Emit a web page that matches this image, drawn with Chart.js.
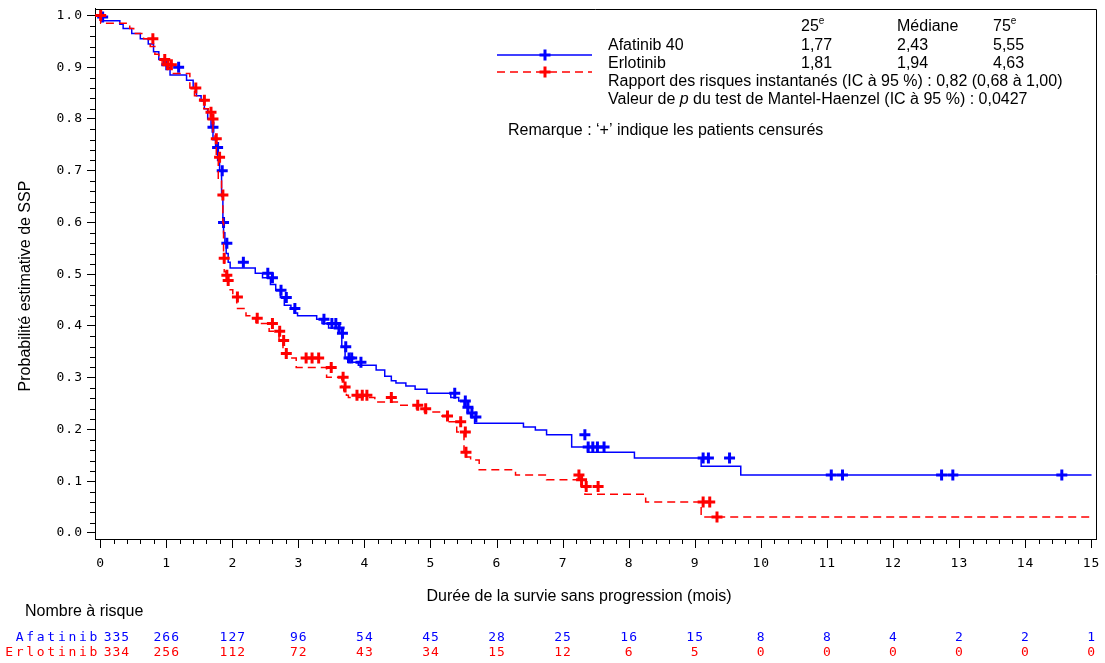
<!DOCTYPE html>
<html lang="fr">
<head>
<meta charset="utf-8">
<title>Survie sans progression</title>
<script src="https://cdn.jsdelivr.net/npm/chart.js@4.4.0/dist/chart.umd.min.js"></script>
<style>
  html, body { margin: 0; padding: 0; background: #fff; }
  canvas { display: block; }
</style>
</head>
<body>
<canvas id="kmChart" width="1105" height="663"></canvas>
<script>
// Kaplan-Meier steps (months, survival after the step)
const afaTimes = [0, 0.02, 0.29, 0.34, 0.47, 0.6, 0.72, 0.8, 0.88, 0.95, 1.0, 1.05, 1.3, 1.4, 1.45, 1.52, 1.57, 1.62, 1.67, 1.7,
  1.74, 1.77, 1.8, 1.83, 1.85, 1.86, 1.88, 1.9, 1.93, 1.96, 2.34, 2.45, 2.57, 2.65, 2.72, 2.78, 2.88, 2.93, 2.98, 3.27,
  3.35, 3.45, 3.6, 3.65, 3.7, 3.74, 3.9, 4.17, 4.3, 4.4, 4.47, 4.62, 4.76, 4.94, 5.3, 5.42, 5.5, 5.55, 5.6, 5.66,
  6.4, 6.58, 6.75, 7.13, 7.37, 8.08, 9.09, 9.69, 11.06, 15.0];
const afaSurv = [1.0, 0.997, 0.99, 0.983, 0.975, 0.965, 0.955, 0.945, 0.93, 0.915, 0.905, 0.9, 0.885, 0.875, 0.86, 0.845, 0.835, 0.82, 0.80, 0.784,
  0.76, 0.745, 0.72, 0.70, 0.65, 0.60, 0.58, 0.56, 0.54, 0.523, 0.512, 0.502, 0.493, 0.48, 0.469, 0.455, 0.44, 0.434, 0.425, 0.42,
  0.413, 0.405, 0.396, 0.386, 0.36, 0.338, 0.33, 0.324, 0.315, 0.303, 0.294, 0.29, 0.284, 0.278, 0.27, 0.262, 0.255, 0.243, 0.232, 0.224,
  0.212, 0.205, 0.199, 0.19, 0.166, 0.156, 0.145, 0.129, 0.112, 0.112];
const afaCensored = [0.03, 1.0, 1.18, 1.7, 1.77, 1.84, 1.86, 1.91, 2.16, 2.53, 2.6, 2.73, 2.81, 2.94, 3.38, 3.5, 3.56, 3.61, 3.66, 3.71,
  3.76, 3.8, 3.94, 5.36, 5.52, 5.56, 5.62, 5.68, 7.33, 7.38, 7.45, 7.52, 7.62, 9.12, 9.2, 9.52, 11.06, 11.23, 12.73, 12.9, 14.55];

const erlTimes = [0, 0.44, 0.5, 0.65, 0.75, 0.82, 0.88, 0.93, 1.0, 1.1, 1.35, 1.42, 1.5, 1.56, 1.63, 1.67, 1.7, 1.73, 1.75, 1.78,
  1.83, 1.85, 1.86, 1.87, 1.9, 1.91, 1.93, 2.0, 2.06, 2.2, 2.3, 2.35, 2.55, 2.7, 2.76, 2.8, 2.96, 3.42, 3.65, 3.68,
  3.72, 3.75, 4.15, 4.52, 4.78, 4.9, 5.15, 5.24, 5.39, 5.5, 5.53, 5.6, 5.73, 6.28, 6.75, 7.27, 7.33, 8.25, 9.09, 9.25, 15.0];
const erlSurv = [1.0, 0.985, 0.975, 0.965, 0.955, 0.94, 0.925, 0.915, 0.905, 0.897, 0.888, 0.86, 0.845, 0.836, 0.82, 0.813, 0.80, 0.775, 0.762, 0.726,
  0.68, 0.653, 0.6, 0.531, 0.505, 0.498, 0.488, 0.47, 0.456, 0.434, 0.42, 0.415, 0.405, 0.39, 0.372, 0.347, 0.338, 0.32, 0.301, 0.282,
  0.275, 0.266, 0.262, 0.253, 0.247, 0.24, 0.234, 0.226, 0.215, 0.195, 0.156, 0.147, 0.141, 0.122, 0.112, 0.103, 0.09, 0.075, 0.06, 0.031, 0.031];
const erlCensored = [0, 0.79, 0.97, 1.02, 1.07, 1.44, 1.57, 1.67, 1.7, 1.75, 1.8, 1.85, 1.87, 1.91, 1.93, 2.07, 2.37, 2.6, 2.71, 2.77,
  2.81, 3.11, 3.2, 3.3, 3.49, 3.67, 3.7, 3.88, 3.96, 4.03, 4.4, 4.8, 4.92, 5.25, 5.45, 5.52, 5.53, 7.24, 7.28, 7.35, 7.53, 9.12, 9.22, 9.33];

// axes and risk table
const months = [0, 1, 2, 3, 4, 5, 6, 7, 8, 9, 10, 11, 12, 13, 14, 15];
const yTicks = [0, 0.1, 0.2, 0.3, 0.4, 0.5, 0.6, 0.7, 0.8, 0.9, 1.0];
const riskAfatinib = [335, 266, 127, 96, 54, 45, 28, 25, 16, 15, 8, 8, 4, 2, 2, 1];
const riskErlotinib = [334, 256, 112, 72, 43, 34, 15, 12, 6, 5, 0, 0, 0, 0, 0, 0];

// legend table
const quantHeads = ['25', 'Médiane', '75'];
const afaQuant = ['1,77', '2,43', '5,55'];
const erlQuant = ['1,81', '1,94', '4,63'];

const BLUE = '#0000ff';
const RED = '#ff0000';
const MONO = '"DejaVu Sans Mono", "Liberation Mono", monospace';
const SANS = '"Liberation Sans", Arial, sans-serif';

function survAt(times, surv, t) {
    let s = surv[0];
    for (let i = 0; i < times.length; i++) {
        if (times[i] <= t + 1e-9) s = surv[i];
    }
    return s;
}

const curve = (times, surv) => times.map((t, i) => ({ x: t, y: surv[i] }));
const marks = (cens, times, surv) => cens.map(t => ({ x: t, y: survAt(times, surv, t) }));

function drawCross(ctx, x, y, color) {
    ctx.save();
    ctx.strokeStyle = color;
    ctx.lineWidth = 3;
    ctx.beginPath();
    ctx.moveTo(x - 5.5, y); ctx.lineTo(x + 5.5, y);
    ctx.moveTo(x, y - 5.5); ctx.lineTo(x, y + 5.5);
    ctx.stroke();
    ctx.restore();
}

const decorations = {
    id: 'decorations',
    beforeDraw(chart) {
        chart.ctx.letterSpacing = '1px'; // SAS style wide tick labels
    },
    afterDraw(chart) {
        const ctx = chart.ctx;
        const a = chart.chartArea;
        const xs = chart.scales.x;
        const ys = chart.scales.y;
        ctx.save();
        ctx.letterSpacing = '0px';

        // top and right frame
        ctx.strokeStyle = '#000';
        ctx.lineWidth = 1;
        ctx.beginPath();
        ctx.moveTo(a.left, Math.round(a.top) + 0.5);
        ctx.lineTo(Math.round(a.right) - 0.5, Math.round(a.top) + 0.5);
        ctx.lineTo(Math.round(a.right) - 0.5, a.bottom);
        ctx.stroke();

        // minor ticks
        ctx.beginPath();
        for (let i = 0; i <= 75; i++) {
            if (i % 5 === 0) continue;
            const px = Math.round(xs.getPixelForValue(i / 5)) + 0.5;
            ctx.moveTo(px, a.bottom);
            ctx.lineTo(px, a.bottom + 5);
        }
        for (let i = 0; i <= 50; i++) {
            if (i % 5 === 0) continue;
            const py = Math.round(ys.getPixelForValue(i / 50)) + 0.5;
            ctx.moveTo(a.left, py);
            ctx.lineTo(a.left - 5, py);
        }
        ctx.stroke();

        // axis titles
        ctx.fillStyle = '#000';
        ctx.font = '16px ' + SANS;
        ctx.textAlign = 'center';
        ctx.textBaseline = 'middle';
        ctx.fillText('Durée de la survie sans progression (mois)', 579, 597);
        ctx.save();
        ctx.translate(26, 286);
        ctx.rotate(-Math.PI / 2);
        ctx.fillText('Probabilité estimative de SSP', 0, 0);
        ctx.restore();

        // legend block
        const cols = [801, 897, 993];
        ctx.textAlign = 'left';
        quantHeads.forEach((h, i) => {
            ctx.font = '16px ' + SANS;
            ctx.fillText(h, cols[i], 27);
            if (h !== 'Médiane') {
                const w = ctx.measureText(h).width;
                ctx.font = '10px ' + SANS;
                ctx.fillText('e', cols[i] + w, 21);
            }
        });
        ctx.font = '16px ' + SANS;
        ctx.fillText('Afatinib 40', 608, 46);
        ctx.fillText('Erlotinib', 608, 64);
        afaQuant.forEach((v, i) => ctx.fillText(v, cols[i], 46));
        erlQuant.forEach((v, i) => ctx.fillText(v, cols[i], 64));
        ctx.fillText('Rapport des risques instantanés (IC à 95 %) : 0,82 (0,68 à 1,00)', 608, 82);
        let x = 608;
        const p1 = 'Valeur de ';
        ctx.fillText(p1, x, 100);
        x += ctx.measureText(p1).width;
        ctx.font = 'italic 16px ' + SANS;
        ctx.fillText('p', x, 100);
        x += ctx.measureText('p').width;
        ctx.font = '16px ' + SANS;
        ctx.fillText(' du test de Mantel-Haenzel (IC à 95 %) : 0,0427', x, 100);
        ctx.fillText('Remarque : \u2018+\u2019 indique les patients censurés', 508, 131);

        // legend samples
        ctx.lineWidth = 1.5;
        ctx.strokeStyle = BLUE;
        ctx.beginPath(); ctx.moveTo(497, 55); ctx.lineTo(592, 55); ctx.stroke();
        drawCross(ctx, 545, 55, BLUE);
        ctx.strokeStyle = RED;
        ctx.setLineDash([8, 5]);
        ctx.beginPath(); ctx.moveTo(497, 72); ctx.lineTo(592, 72); ctx.stroke();
        ctx.setLineDash([]);
        drawCross(ctx, 545, 72, RED);

        // number at risk
        ctx.fillStyle = '#000';
        ctx.font = '16px ' + SANS;
        ctx.fillText('Nombre à risque', 25, 612);
        const rows = [[riskAfatinib, 'Afatinib', BLUE, 638], [riskErlotinib, 'Erlotinib', RED, 653]];
        rows.forEach(([vals, name, color, y]) => {
            ctx.fillStyle = color;
            ctx.font = '13px ' + MONO;
            ctx.letterSpacing = '2.7px';
            ctx.textAlign = 'right';
            ctx.fillText(name, 100, y);
            ctx.letterSpacing = '1px';
            vals.forEach((v, i) => {
                const px = xs.getPixelForValue(months[i]);
                if (i === 0) {
                    ctx.textAlign = 'left';
                    ctx.fillText(String(v), px + 3, y);
                } else {
                    ctx.textAlign = 'center';
                    ctx.fillText(String(v), px, y);
                }
            });
        });
        ctx.restore();
        ctx.letterSpacing = '0px';
    }
};

new Chart(document.getElementById('kmChart'), {
    type: 'line',
    data: {
        datasets: [
            {
                label: 'Erlotinib', data: curve(erlTimes, erlSurv),
                borderColor: RED, borderWidth: 1.5, borderDash: [8, 5],
                stepped: 'after', pointRadius: 0, fill: false, order: 1
            },
            {
                label: 'Erlotinib censurés', data: marks(erlCensored, erlTimes, erlSurv),
                showLine: false, pointStyle: 'cross', pointRadius: 5.5, pointBorderWidth: 3,
                borderColor: RED, backgroundColor: RED, order: 0
            },
            {
                label: 'Afatinib 40', data: curve(afaTimes, afaSurv),
                borderColor: BLUE, borderWidth: 1.5,
                stepped: 'after', pointRadius: 0, fill: false, order: 3
            },
            {
                label: 'Afatinib censurés', data: marks(afaCensored, afaTimes, afaSurv),
                showLine: false, pointStyle: 'cross', pointRadius: 5.5, pointBorderWidth: 3,
                borderColor: BLUE, backgroundColor: BLUE, order: 2
            }
        ]
    },
    options: {
        responsive: false,
        animation: false,
        events: [],
        layout: { padding: { top: 8, right: 5, left: 0, bottom: 0 } },
        plugins: { legend: { display: false }, tooltip: { enabled: false } },
        scales: {
            x: {
                type: 'linear', min: -0.086, max: 15.075,
                afterBuildTicks: s => { s.ticks = months.map(v => ({ value: v })); },
                afterFit: s => { s.height = 124; s.paddingLeft = 0; s.paddingRight = 0; },
                ticks: {
                    font: { family: MONO, size: 13 }, color: '#000', padding: 8,
                    maxRotation: 0, autoSkip: false, callback: v => String(v)
                },
                grid: { drawOnChartArea: false, tickLength: 9, color: '#000' },
                border: { color: '#000', width: 1 }
            },
            y: {
                type: 'linear', min: -0.0116, max: 1.0135,
                afterBuildTicks: s => { s.ticks = yTicks.map(v => ({ value: v })); },
                afterFit: s => { s.width = 95; s.paddingTop = 0; s.paddingBottom = 0; },
                ticks: {
                    font: { family: MONO, size: 13 }, color: '#000', padding: 4,
                    callback: v => v.toFixed(1)
                },
                grid: { drawOnChartArea: false, tickLength: 8, color: '#000' },
                border: { color: '#000', width: 1 }
            }
        }
    },
    plugins: [decorations]
});
</script>
</body>
</html>
